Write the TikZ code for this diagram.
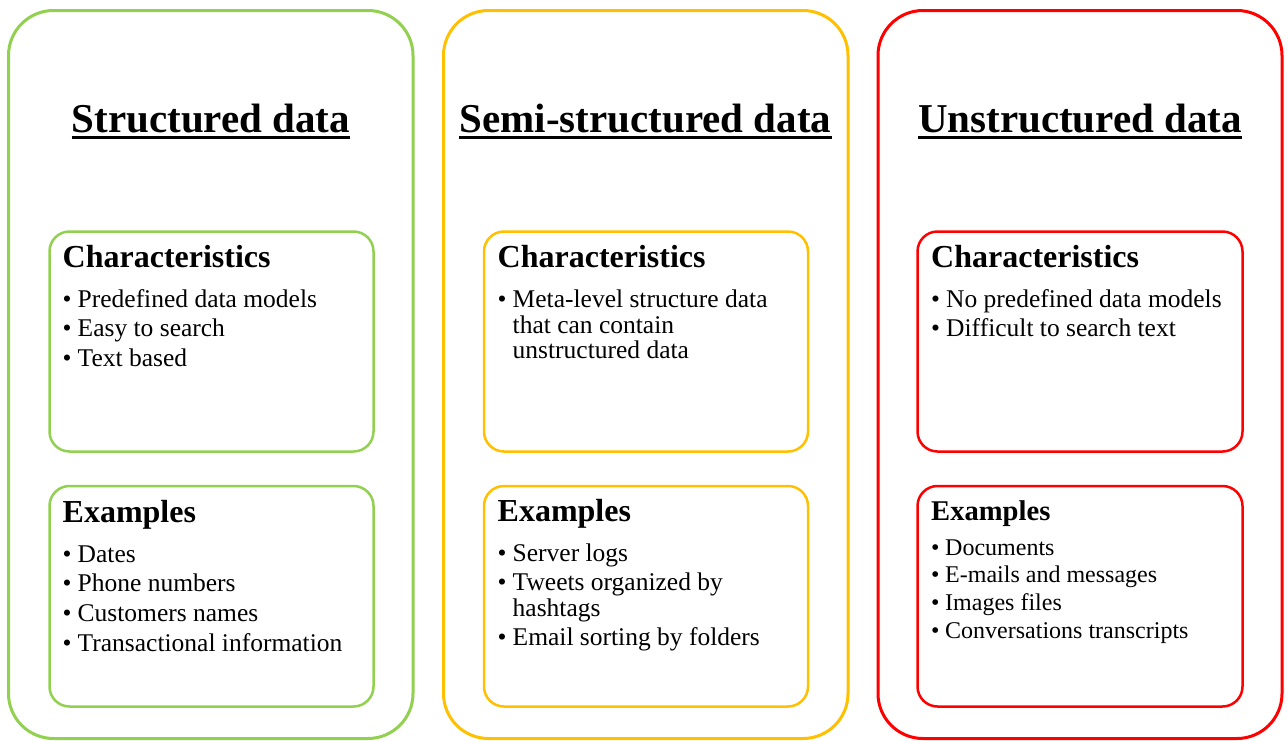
\documentclass[tikz,border=0pt]{standalone}
\usepackage{fontspec}
\setmainfont{Liberation Serif}
\definecolor{grn}{RGB}{146,208,80}
\definecolor{ylw}{RGB}{255,192,0}
\definecolor{rd}{RGB}{255,0,0}
\newcommand{\itm}[1]{\makebox[15pt][l]{•}#1}
\newcommand{\cont}[1]{\hspace*{15pt}#1}
\begin{document}
\begin{tikzpicture}[x=1pt,y=-1pt,
  outerbox/.style={line width=3pt,rounded corners=45pt},
  innerbox/.style={line width=2.5pt,rounded corners=20pt},
  title/.style={font=\bfseries\fontsize{41}{46}\selectfont,anchor=base,inner sep=0pt},
  ul/.style={line width=3.5pt},
  heading/.style={font=\bfseries\fontsize{32}{36}\selectfont,anchor=base west,inner sep=0pt},
  list/.style={anchor=base west,inner sep=0pt}
]
\useasboundingbox[fill=white] (0,0) rectangle (1288,740);

% outer panels
\draw[outerbox,draw=grn] (8.5,10.5) rectangle (413,738.5);
\draw[outerbox,draw=ylw] (443.5,10.5) rectangle (848,738.5);
\draw[outerbox,draw=rd] (878,10.5) rectangle (1282,738.5);

% inner boxes
\draw[innerbox,draw=grn] (49.5,231.5) rectangle (373.5,451.5);
\draw[innerbox,draw=grn] (49.5,486) rectangle (373.5,706.5);
\draw[innerbox,draw=ylw] (484,231.5) rectangle (808,451.5);
\draw[innerbox,draw=ylw] (484,486) rectangle (808,706.5);
\draw[innerbox,draw=rd] (917.5,231.5) rectangle (1242.5,451.5);
\draw[innerbox,draw=rd] (917.5,486) rectangle (1242.5,706.5);

% titles
\node[title] (t1) at (211,132) {Structured data};
\node[title] (t2) at (645.5,132) {Semi-structured data};
\node[title] (t3) at (1080,132) {Unstructured data};
\foreach \t in {t1,t2,t3}
  \draw[ul] ([yshift=-5.5pt]\t.base west) -- ([yshift=-5.5pt]\t.base east);

% structured
\node[heading] (h1) at (62.5,267) {Characteristics};
\node[list] (l1) at (62.5,307.3) {\fontsize{25.5}{29.6}\selectfont
  \begin{tabular}[t]{@{}l@{}}
  \itm{Predefined data models}\\
  \itm{Easy to search}\\
  \itm{Text based}
  \end{tabular}};
\node[heading] (h2) at (62.5,522) {Examples};
\node[list] (l2) at (62.5,562) {\fontsize{25.5}{29.7}\selectfont
  \begin{tabular}[t]{@{}l@{}}
  \itm{Dates}\\
  \itm{Phone numbers}\\
  \itm{Customers names}\\
  \itm{Transactional information}
  \end{tabular}};

% semi-structured
\node[heading] (h3) at (497.5,267) {Characteristics};
\node[list] (l3) at (497.5,307.3) {\fontsize{25.5}{25.8}\selectfont
  \begin{tabular}[t]{@{}l@{}}
  \itm{Meta-level structure data}\\
  \cont{that can contain}\\
  \cont{unstructured data}
  \end{tabular}};
\node[heading] (h4) at (497.5,521.7) {Examples};
\node[list] (l4) at (497.5,561.7) {\fontsize{25.5}{26.7}\selectfont
  \begin{tabular}[t]{@{}l@{}}
  \itm{Server logs}\\[1.6pt]
  \itm{Tweets organized by}\\
  \cont{hashtags}\\[1.6pt]
  \itm{Email sorting by folders}
  \end{tabular}};

% unstructured
\node[heading] (h5) at (931,267) {Characteristics};
\node[list] (l5) at (931,307.3) {\fontsize{25.5}{29.5}\selectfont
  \begin{tabular}[t]{@{}l@{}}
  \itm{No predefined data models}\\
  \itm{Difficult to search text}
  \end{tabular}};
\node[heading,font=\bfseries\fontsize{28.6}{32}\selectfont] (h6) at (931,520) {Examples};
\node[list] (l6) at (931,555) {\fontsize{24}{27.7}\selectfont
  \begin{tabular}[t]{@{}l@{}}
  \makebox[14pt][l]{•}Documents\\
  \makebox[14pt][l]{•}E-mails and messages\\
  \makebox[14pt][l]{•}Images files\\
  \makebox[14pt][l]{•}Conversations transcripts
  \end{tabular}};
\end{tikzpicture}
\end{document}
